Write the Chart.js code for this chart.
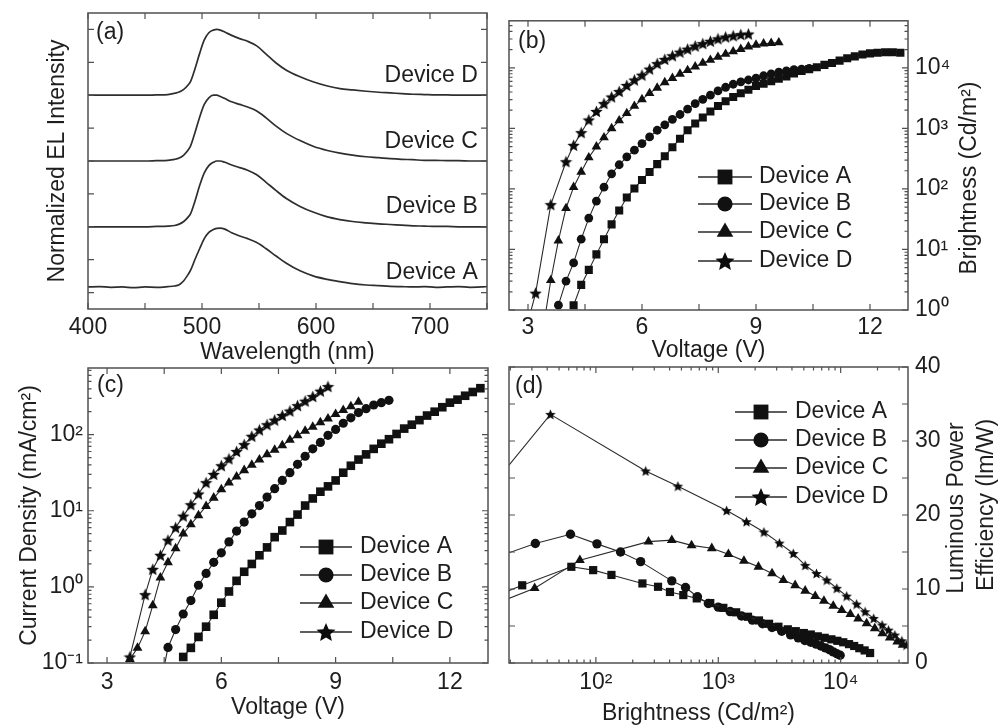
<!DOCTYPE html>
<html>
<head>
<meta charset="utf-8">
<script src="https://cdn.jsdelivr.net/npm/chart.js@4.4.0/dist/chart.umd.min.js"></script>
<style>
  html, body { margin: 0; padding: 0; background: #ffffff; }
  #wrap { position: relative; width: 1003px; height: 726px; overflow: hidden; background: #ffffff; }
  #wrap canvas { position: absolute; left: 0; top: 0; }
</style>
</head>
<body>
<div id="wrap">
  <canvas id="chartA" width="1003" height="726"></canvas>
  <canvas id="chartB" width="1003" height="726"></canvas>
  <canvas id="chartC" width="1003" height="726"></canvas>
  <canvas id="chartD" width="1003" height="726"></canvas>
</div>
<script>
// ---------- (a) normalized EL spectra, stacked with an offset per device ----------
const wavelengths = [400,410,420,430,440,450,460,470,476,480,484,488,490,494,498,502,506,510,513,516,520,526,533,540,548,556,565,574,586,598,610,621,632,644,655,665,675,685,695,705,715,725,735,745,750];
const elA = [0.17,0.18,0.16,0.17,0.15,0.17,0.16,0.18,0.20,0.24,0.36,0.56,0.68,1.02,1.34,1.64,1.83,1.92,1.95,1.96,1.93,1.82,1.72,1.64,1.52,1.34,1.11,0.89,0.66,0.50,0.40,0.33,0.27,0.23,0.21,0.19,0.18,0.17,0.18,0.16,0.17,0.18,0.16,0.17,0.18];
const elB = [2.00,2.00,2.00,2.00,2.00,2.00,2.01,2.02,2.04,2.08,2.16,2.30,2.40,2.80,3.26,3.64,3.86,3.96,4.00,4.00,3.96,3.88,3.80,3.72,3.58,3.36,3.10,2.86,2.62,2.44,2.30,2.22,2.16,2.12,2.09,2.07,2.05,2.03,2.02,2.01,2.01,2.00,2.00,2.00,2.00];
const elC = [4.00,4.00,4.00,4.00,4.00,4.00,4.01,4.02,4.05,4.09,4.18,4.34,4.46,4.88,5.34,5.72,5.92,6.00,6.00,5.96,5.90,5.80,5.72,5.64,5.52,5.32,5.06,4.84,4.62,4.44,4.32,4.24,4.18,4.13,4.10,4.07,4.05,4.04,4.02,4.02,4.01,4.01,4.00,4.00,4.00];
const elD = [6.00,6.00,6.00,6.00,6.00,6.00,6.01,6.02,6.06,6.10,6.18,6.32,6.42,6.82,7.28,7.68,7.90,7.98,8.00,7.98,7.92,7.82,7.72,7.64,7.50,7.26,6.98,6.76,6.56,6.40,6.28,6.20,6.16,6.12,6.09,6.07,6.05,6.03,6.02,6.01,6.01,6.00,6.00,6.00,6.00];

// ---------- (b) brightness vs voltage ----------
const voltLumA = [4.2,4.4,4.6,4.8,5.0,5.2,5.4,5.6,5.8,6.0,6.2,6.4,6.6,6.8,7.0,7.2,7.4,7.6,7.8,8.0,8.2,8.4,8.6,8.8,9.0,9.2,9.4,9.6,9.8,10.0,10.2,10.4,10.6,10.8,11.0,11.2,11.4,11.6,11.8,12.0,12.2,12.4,12.6,12.8];
const lumA = [1.2,2.6,4.6,8.3,14.8,26,44,72,102,141,191,257,347,490,676,933,1202,1514,1905,2344,2818,3311,3802,4365,5012,5495,6026,6607,7244,8128,8913,9550,10230,11220,12020,13180,14450,15490,16600,17380,17780,18200,18200,17780];
const voltLumB = [3.8,4.0,4.2,4.4,4.6,4.8,5.0,5.2,5.4,5.6,5.8,6.0,6.2,6.4,6.6,6.8,7.0,7.2,7.4,7.6,7.8,8.0,8.2,8.4,8.6,8.8,9.0,9.2,9.4,9.6,9.8,10.0,10.2,10.4];
const lumB = [1.2,3.0,6.0,14.8,33,63,107,178,251,339,437,562,724,933,1148,1413,1698,2089,2570,3020,3548,4169,4786,5370,5888,6310,6761,7413,7943,8511,8913,9333,9550,9772];
const voltLumC = [3.4,3.6,3.8,4.0,4.2,4.4,4.6,4.8,5.0,5.2,5.4,5.6,5.8,6.0,6.2,6.4,6.6,6.8,7.0,7.2,7.4,7.6,7.8,8.0,8.2,8.4,8.6,8.8,9.0,9.2,9.4,9.6];
const lumC = [0.5,3.1,14,48,107,191,331,500,708,1000,1349,1778,2344,3020,3802,4677,5754,6761,7943,9120,10470,12020,13490,15140,16980,18620,20420,22390,23990,25120,25700,26300];
const voltLumD = [3.0,3.2,3.6,4.0,4.2,4.4,4.6,4.8,5.0,5.2,5.4,5.6,5.8,6.0,6.2,6.4,6.6,6.8,7.0,7.2,7.4,7.6,7.8,8.0,8.2,8.4,8.6,8.8];
const lumD = [0.63,1.9,55,282,525,851,1380,1905,2570,3311,4074,5129,6310,7586,9550,11750,13800,15850,18200,20420,22910,25120,27540,30200,32360,33880,35480,36310];

// ---------- (c) current density vs voltage ----------
const voltCurA = [5.0,5.2,5.4,5.6,5.8,6.0,6.2,6.4,6.6,6.8,7.0,7.2,7.4,7.6,7.8,8.0,8.2,8.4,8.6,8.8,9.0,9.2,9.4,9.6,9.8,10.0,10.2,10.4,10.6,10.8,11.0,11.2,11.4,11.6,11.8,12.0,12.2,12.4,12.6,12.8];
const curA = [0.12,0.158,0.22,0.30,0.43,0.62,0.87,1.2,1.58,2.0,2.6,3.3,4.5,5.5,7.1,8.9,11.7,14.5,17.8,20.9,25,31.6,39,47,55,65,76,87,102,120,135,155,178,200,229,263,288,324,363,407];
const voltCurB = [4.4,4.6,4.8,5.0,5.2,5.4,5.6,5.8,6.0,6.2,6.4,6.6,6.8,7.0,7.2,7.4,7.6,7.8,8.0,8.2,8.4,8.6,8.8,9.0,9.2,9.4,9.6,9.8,10.0,10.2,10.4];
const curB = [0.05,0.16,0.275,0.44,0.66,1.05,1.5,2.1,2.8,3.9,5.4,7.1,9.1,11.7,15.1,19.5,25,31.6,40.7,52,65,79,98,117,141,166,195,219,245,263,282];
const voltCurC = [3.6,3.8,4.0,4.2,4.4,4.6,4.8,5.0,5.2,5.4,5.6,5.8,6.0,6.2,6.4,6.6,6.8,7.0,7.2,7.4,7.6,7.8,8.0,8.2,8.4,8.6,8.8,9.0,9.2,9.4,9.6];
const curC = [0.112,0.158,0.26,0.57,1.32,2.1,3.2,5.0,6.6,8.7,11.5,14.8,19,23.4,28,34,40,47,55,63,72,85,98,112,126,145,162,186,209,234,269];
const voltCurD = [3.6,4.0,4.2,4.4,4.6,4.8,5.0,5.2,5.4,5.6,5.8,6.0,6.2,6.4,6.6,6.8,7.0,7.2,7.4,7.6,7.8,8.0,8.2,8.4,8.6,8.8];
const curD = [0.12,0.79,1.7,2.6,4.1,6.0,8.5,12,16.6,23.4,30,39,48,60,74,95,115,135,155,178,204,240,275,316,372,427];

// ---------- (d) luminous power efficiency vs brightness ----------
const effLumA = [14.8,25,63,95,134,240,322,403,518,667,860,1100,1400,1750,2150,2600,3100,3700,4300,5000,5700,6500,7400,8400,9400,10500,11700,12900,14200,15700,17400];
const effA = [9.0,10.5,13.0,12.55,11.9,10.75,10.3,9.6,9.18,8.73,8.1,7.45,6.85,6.25,5.75,5.3,4.9,4.55,4.3,4.05,3.85,3.6,3.4,3.2,3.0,2.8,2.55,2.3,2.0,1.7,1.35];
const effLumB = [14.8,32,62,102,159,232,417,540,676,830,1000,1250,1550,1900,2300,2750,3300,3900,4500,5100,5700,6300,6900,7500,8100,8700,9300,9900];
const effB = [14.2,16.15,17.4,16.1,15.0,13.7,11.1,10.2,8.95,8.05,7.55,6.95,6.35,5.8,5.3,4.8,4.3,3.8,3.4,3.05,2.8,2.55,2.3,2.05,1.8,1.5,1.25,1.05];
const effLumC = [14,31.6,74,269,417,605,885,1210,1620,2130,2750,3400,4250,5130,6200,7300,8700,10200,12000,13900,16300,19000,21900,25200,29000,32100];
const effC = [7.8,10.1,13.9,16.4,16.6,15.9,15.5,14.7,13.8,13.0,12.1,11.2,10.5,9.76,9.04,8.4,7.7,7.15,6.6,6.0,5.36,4.68,4.0,3.42,2.88,2.43];
const effLumD = [1.7,42.5,255,468,1170,1700,2360,3160,4100,5130,6340,7700,9300,11200,13500,15840,18600,21800,24600,27700,31600,34400];
const effD = [5.2,33.6,25.95,23.9,20.6,19.1,17.7,16.2,14.8,13.2,12.1,11.2,10.1,9.04,7.96,6.93,6.03,5.13,4.45,3.78,3.0,2.43];

// ---------- tick values and labels ----------
const wlTickValues = [400,500,600,700];
const wlTickLabels = ['400','500','600','700'];
const wlMinorTicks = [450,550,650,750];
const elTickValues = [0,1,2,3,4,5,6,7,8];
const voltTickValues = [3,6,9,12];
const voltTickLabels = ['3','6','9','12'];
const voltMinorTicks = [4.5,7.5,10.5];
const brightTickValues = [1,10,100,1000,10000];
const brightTickLabels = ['10⁰','10¹','10²','10³','10⁴'];
const currentTickValues = [0.1,1,10,100];
const currentTickLabels = ['10⁻¹','10⁰','10¹','10²'];
const effBrightTickValues = [100,1000,10000];
const effBrightTickLabels = ['10²','10³','10⁴'];
const effTickValues = [0,10,20,30,40];
const effTickLabels = ['0','10','20','30','40'];
const effMinorTicks = [5,15,25,35];
const deviceNames = ['Device A','Device B','Device C','Device D'];

const FONT = "'Liberation Sans', Arial, Helvetica, sans-serif";
const INK = '#1e1e1e';
const LINE = '#2a2a2a';
const FRAME = '#505050';

Chart.defaults.font.family = FONT;
Chart.defaults.font.size = 23;
Chart.defaults.color = INK;
Chart.defaults.animation = false;

// filled five-point star used as a marker
function starImage(size) {
  const c = document.createElement('canvas');
  c.width = size; c.height = size;
  const g = c.getContext('2d');
  const R = size / 2, r = R * 0.46, cx = R, cy = R * 1.09;
  g.beginPath();
  for (let i = 0; i < 10; i++) {
    const ang = -Math.PI / 2 + i * Math.PI / 5;
    const rad = i % 2 ? r : R;
    g.lineTo(cx + rad * Math.cos(ang), cy + rad * Math.sin(ang));
  }
  g.closePath();
  g.fillStyle = '#0c0c0c';
  g.fill();
  return c;
}

function points(xs, ys) { return xs.map((x, i) => ({ x: x, y: ys[i] })); }

function logMinors(min, max) {
  const out = [];
  for (let e = Math.floor(Math.log10(min)); e <= Math.ceil(Math.log10(max)); e++) {
    for (let m = 2; m <= 9; m++) {
      const v = m * Math.pow(10, e);
      if (v > min && v < max) out.push(v);
    }
  }
  return out;
}

function labeler(values, labels) {
  return v => {
    const i = values.findIndex(t => Math.abs(t - v) <= Math.abs(t) * 1e-9 + 1e-12);
    return i >= 0 ? labels[i] : '';
  };
}

function isDecade(v) {
  const e = Math.log10(v);
  return Math.abs(e - Math.round(e)) < 1e-6;
}

// plot frame with inward tick marks on all four sides
const frameTicks = {
  id: 'frameTicks',
  afterDatasetsDraw(chart) {
    const { ctx, chartArea: a } = chart;
    const xs = chart.scales.x, ys = chart.scales.y;
    ctx.save();
    ctx.strokeStyle = FRAME;
    ctx.lineWidth = 1.2;
    ctx.beginPath();
    xs.ticks.forEach(t => {
      const px = xs.getPixelForValue(t.value);
      if (px < a.left - 0.5 || px > a.right + 0.5) return;
      const len = xs.type === 'logarithmic' ? (isDecade(t.value) ? 6 : 3.5) : 6;
      ctx.moveTo(px, a.bottom); ctx.lineTo(px, a.bottom - len);
      ctx.moveTo(px, a.top); ctx.lineTo(px, a.top + len);
    });
    ys.ticks.forEach(t => {
      const py = ys.getPixelForValue(t.value);
      if (py < a.top - 0.5 || py > a.bottom + 0.5) return;
      const len = ys.type === 'logarithmic' ? (isDecade(t.value) ? 6 : 3.5) : 6;
      ctx.moveTo(a.left, py); ctx.lineTo(a.left + len, py);
      ctx.moveTo(a.right, py); ctx.lineTo(a.right - len, py);
    });
    ctx.stroke();
    ctx.lineWidth = 1.5;
    ctx.strokeRect(a.left, a.top, a.right - a.left, a.bottom - a.top);
    ctx.restore();
  }
};

// panel letter in the upper left corner of the plot
function panelTag(text, dx, dy) {
  return {
    id: 'panelTag',
    afterDraw(chart) {
      const { ctx, chartArea: a } = chart;
      ctx.save();
      ctx.font = '23px ' + FONT;
      ctx.fillStyle = INK;
      ctx.textAlign = 'left';
      ctx.textBaseline = 'middle';
      ctx.fillText(text, a.left + dx, a.top + dy);
      ctx.restore();
    }
  };
}

// axis titles drawn by hand (rotated ones read bottom to top)
function sideTitles(lines) {
  return {
    id: 'sideTitles',
    afterDraw(chart) {
      const ctx = chart.ctx;
      ctx.save();
      ctx.font = '23px ' + FONT;
      ctx.fillStyle = INK;
      ctx.textAlign = 'center';
      ctx.textBaseline = 'middle';
      lines.forEach(l => {
        ctx.save();
        ctx.translate(l.x, l.y);
        ctx.rotate(l.rot || 0);
        ctx.fillText(l.text, 0, 0);
        ctx.restore();
      });
      ctx.restore();
    }
  };
}

// legend with a line through each marker, placed inside the plot
function insetLegend(cfg) {
  return {
    id: 'insetLegend',
    afterDraw(chart) {
      const ctx = chart.ctx;
      ctx.save();
      chart.data.datasets.forEach((ds, i) => {
        const y = cfg.rows[i];
        ctx.strokeStyle = LINE;
        ctx.lineWidth = 1.3;
        ctx.beginPath(); ctx.moveTo(cfg.x1, y); ctx.lineTo(cfg.x2, y); ctx.stroke();
        ctx.fillStyle = '#111';
        const m = cfg.markers[i];
        if (Chart.helpers && Chart.helpers.drawPoint) {
          Chart.helpers.drawPoint(ctx, { pointStyle: m.style, radius: m.radius, rotation: 0, borderWidth: 0 }, cfg.xm, y);
        }
        ctx.fillStyle = INK;
        ctx.font = '23px ' + FONT;
        ctx.textAlign = 'left';
        ctx.textBaseline = 'middle';
        ctx.fillText(ds.label, cfg.xt, y);
      });
      ctx.restore();
    }
  };
}

function series(label, xs, ys, style, radius) {
  return {
    label: label,
    data: points(xs, ys),
    borderColor: LINE,
    borderWidth: 1.1,
    pointStyle: style,
    pointRadius: radius,
    pointBackgroundColor: '#111',
    pointBorderWidth: 0,
    fill: false,
    tension: 0
  };
}

function axisBase(extra) {
  return Object.assign({
    grid: { display: false, drawTicks: false },
    border: { display: false },
    bounds: 'data'
  }, extra);
}

const titleFont = { size: 23, lineHeight: 1 };
const commonOpts = {
  responsive: false,
  animation: false,
  events: [],
  plugins: { legend: { display: false }, tooltip: { enabled: false } }
};

// ===== (a) =====
function spectrum(label, ys) {
  return {
    label: label, data: points(wavelengths, ys),
    borderColor: '#2e2e2e', borderWidth: 1.7, pointRadius: 0, fill: false,
    cubicInterpolationMode: 'monotone'
  };
}
const spectrumLabels = {
  id: 'spectrumLabels',
  afterDraw(chart) {
    const { ctx } = chart;
    const xs = chart.scales.x, ys = chart.scales.y;
    const offsets = [0.6, 2.6, 4.6, 6.6];
    ctx.save();
    ctx.font = '23px ' + FONT;
    ctx.fillStyle = INK;
    ctx.textAlign = 'right';
    ctx.textBaseline = 'middle';
    deviceNames.forEach((n, i) => {
      ctx.fillText(n, xs.getPixelForValue(742), ys.getPixelForValue(offsets[i]));
    });
    ctx.restore();
  }
};
new Chart(document.getElementById('chartA'), {
  type: 'line',
  data: { datasets: [spectrum('Device A', elA), spectrum('Device B', elB), spectrum('Device C', elC), spectrum('Device D', elD)] },
  options: Object.assign({}, commonOpts, {
    layout: { padding: { left: 46.5, right: 516, top: 13, bottom: 361.5 } },
    scales: {
      x: axisBase({
        type: 'linear', position: 'bottom', min: 400, max: 750,
        afterBuildTicks: s => { s.ticks = wlTickValues.concat(wlMinorTicks).sort((p, q) => p - q).map(v => ({ value: v })); },
        afterFit: s => { s.height = 55.5; },
        ticks: { autoSkip: false, maxRotation: 0, padding: 5.2, callback: labeler(wlTickValues, wlTickLabels) },
        title: { display: true, text: 'Wavelength (nm)', padding: 0, font: titleFont }
      }),
      y: axisBase({
        type: 'linear', position: 'left', min: -0.5, max: 8.5,
        afterBuildTicks: s => { s.ticks = elTickValues.map(v => ({ value: v })); },
        afterFit: s => { s.width = 41.5; },
        ticks: { display: false },
        title: { display: true, text: 'Normalized EL Intensity', padding: 0, font: titleFont }
      })
    }
  }),
  plugins: [frameTicks, spectrumLabels, panelTag('(a)', 8, 20)]
});

// ===== (b) =====
const starB = starImage(13);
new Chart(document.getElementById('chartB'), {
  type: 'line',
  data: { datasets: [
    series('Device A', voltLumA, lumA, 'rect', 5.7),
    series('Device B', voltLumB, lumB, 'circle', 4.4),
    series('Device C', voltLumC, lumC, 'triangle', 5.6),
    series('Device D', voltLumD, lumD, starB, 5)
  ] },
  options: Object.assign({}, commonOpts, {
    layout: { padding: { left: 509, right: 0, top: 13, bottom: 363.5 } },
    scales: {
      x: axisBase({
        type: 'linear', position: 'bottom', min: 2.5, max: 13,
        afterBuildTicks: s => { s.ticks = voltTickValues.concat(voltMinorTicks).sort((p, q) => p - q).map(v => ({ value: v })); },
        afterFit: s => { s.height = 52.5; },
        ticks: { autoSkip: false, maxRotation: 0, padding: 4.2, callback: labeler(voltTickValues, voltTickLabels) },
        title: { display: true, text: 'Voltage (V)', padding: 0, font: titleFont }
      }),
      y: axisBase({
        type: 'logarithmic', position: 'right', min: 1, max: 60000,
        afterBuildTicks: s => { s.ticks = brightTickValues.concat(logMinors(1, 60000)).sort((p, q) => p - q).map(v => ({ value: v })); },
        afterFit: s => { s.width = 95; },
        ticks: { autoSkip: false, padding: 7, callback: labeler(brightTickValues, brightTickLabels) }
      })
    }
  }),
  plugins: [frameTicks, panelTag('(b)', 9, 21),
    sideTitles([{ text: 'Brightness (Cd/m²)', x: 970, y: 178, rot: -Math.PI / 2 }]),
    insetLegend({ x1: 698, x2: 752, xm: 725, xt: 759, rows: [177, 204, 232, 261],
      markers: [{ style: 'rect', radius: 10.5 }, { style: 'circle', radius: 7.6 }, { style: 'triangle', radius: 9.6 }, { style: starImage(20), radius: 9 }] })]
});

// ===== (c) =====
const starC = starImage(13);
new Chart(document.getElementById('chartC'), {
  type: 'line',
  data: { datasets: [
    series('Device A', voltCurA, curA, 'rect', 6.1),
    series('Device B', voltCurB, curB, 'circle', 4.6),
    series('Device C', voltCurC, curC, 'triangle', 5.7),
    series('Device D', voltCurD, curD, starC, 5)
  ] },
  options: Object.assign({}, commonOpts, {
    layout: { padding: { left: 18.5, right: 515, top: 368, bottom: 6.5 } },
    scales: {
      x: axisBase({
        type: 'linear', position: 'bottom', min: 2.5, max: 13,
        afterBuildTicks: s => { s.ticks = voltTickValues.concat(voltMinorTicks).sort((p, q) => p - q).map(v => ({ value: v })); },
        afterFit: s => { s.height = 56.5; },
        ticks: { autoSkip: false, maxRotation: 0, padding: 6.2, callback: labeler(voltTickValues, voltTickLabels) },
        title: { display: true, text: 'Voltage (V)', padding: 0, font: titleFont }
      }),
      y: axisBase({
        type: 'logarithmic', position: 'left', min: 0.1, max: 750,
        afterBuildTicks: s => { s.ticks = currentTickValues.concat(logMinors(0.1, 750)).sort((p, q) => p - q).map(v => ({ value: v })); },
        afterFit: s => { s.width = 69.5; },
        ticks: { autoSkip: false, padding: 5, callback: labeler(currentTickValues, currentTickLabels) },
        title: { display: true, text: 'Current Density (mA/cm²)', padding: 0, font: titleFont }
      })
    }
  }),
  plugins: [frameTicks, panelTag('(c)', 9, 18),
    insetLegend({ x1: 300, x2: 352, xm: 326, xt: 360, rows: [547, 575, 603, 632],
      markers: [{ style: 'rect', radius: 10.5 }, { style: 'circle', radius: 7.6 }, { style: 'triangle', radius: 9.6 }, { style: starImage(20), radius: 9 }] })]
});

// ===== (d) =====
const starD = starImage(11);
new Chart(document.getElementById('chartD'), {
  type: 'line',
  data: { datasets: [
    series('Device A', effLumA, effA, 'rect', 5.8),
    series('Device B', effLumB, effB, 'circle', 4.7),
    series('Device C', effLumC, effC, 'triangle', 5.7),
    series('Device D', effLumD, effD, starD, 4.5)
  ] },
  options: Object.assign({}, commonOpts, {
    layout: { padding: { left: 509, right: 0, top: 367, bottom: 0.5 } },
    scales: {
      x: axisBase({
        type: 'logarithmic', position: 'bottom', min: 19.5, max: 35500,
        afterBuildTicks: s => { s.ticks = effBrightTickValues.concat(logMinors(19.5, 35500)).sort((p, q) => p - q).map(v => ({ value: v })); },
        afterFit: s => { s.height = 62.5; },
        ticks: { autoSkip: false, maxRotation: 0, padding: 6.2, callback: labeler(effBrightTickValues, effBrightTickLabels) }
      }),
      y: axisBase({
        type: 'linear', position: 'right', min: 0, max: 40,
        afterBuildTicks: s => { s.ticks = effTickValues.concat(effMinorTicks).sort((p, q) => p - q).map(v => ({ value: v })); },
        afterFit: s => { s.width = 95; },
        ticks: { autoSkip: false, padding: 7, callback: labeler(effTickValues, effTickLabels) }
      })
    }
  }),
  plugins: [frameTicks, panelTag('(d)', 6, 20),
    sideTitles([
      { text: 'Brightness (Cd/m²)', x: 698.5, y: 714, rot: 0 },
      { text: 'Luminous Power', x: 957, y: 508, rot: -Math.PI / 2 },
      { text: 'Efficiency (lm/W)', x: 987, y: 505, rot: -Math.PI / 2 }
    ]),
    insetLegend({ x1: 735, x2: 787, xm: 761, xt: 795, rows: [412, 440, 468, 497],
      markers: [{ style: 'rect', radius: 10.5 }, { style: 'circle', radius: 7.6 }, { style: 'triangle', radius: 9.6 }, { style: starImage(20), radius: 9 }] })]
});
</script>
</body>
</html>
